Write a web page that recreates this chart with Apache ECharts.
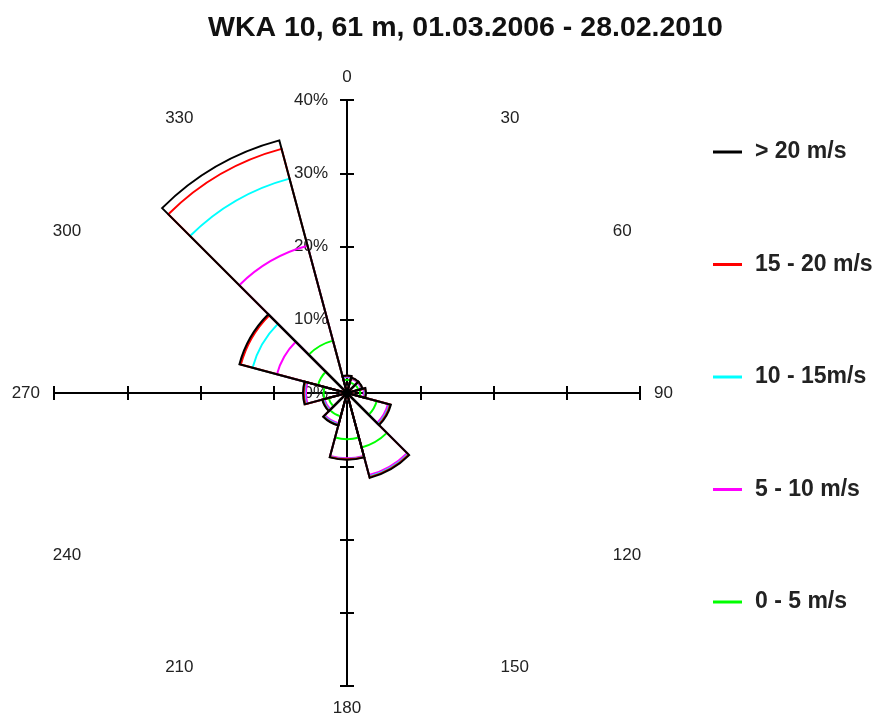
<!DOCTYPE html>
<html>
<head>
<meta charset="utf-8">
<script src="https://cdn.jsdelivr.net/npm/echarts@6/dist/echarts.min.js"></script>
<style>
html,body{margin:0;padding:0;background:#fff;}
#chart{width:877px;height:719px;}
</style>
</head>
<body>
<div id="chart"></div>
<script>
// Direction sectors (compass degrees, 30° bins)
const directions = ['0','30','60','90','120','150','180','210','240','270','300','330'];
// Speed classes
const classNames = ['0 - 5 m/s', '5 - 10 m/s', '10 - 15m/s', '15 - 20 m/s', '> 20 m/s'];
const classColors = ['#00ff00', '#ff00ff', '#00ffff', '#ff0000', '#000000'];
// Frequency (%) per class and direction sector
const v0_5   = [1.8, 1.5, 1.6, 1.8, 4.2, 7.7, 6.3, 3.3, 2.6, 3.2, 4.1, 7.4];
const v5_10  = [0.4, 0.5, 0.4, 0.5, 1.6, 3.9, 2.6, 1.0, 0.6, 2.4, 5.8, 13.4];
const v10_15 = [0.1, 0.1, 0.1, 0.15, 0.2, 0.2, 0.1, 0.15, 0.15, 0.2, 3.45, 9.5];
const v15_20 = [0.05, 0.05, 0.05, 0.1, 0.1, 0.1, 0.05, 0.1, 0.1, 0.1, 1.65, 4.2];
const v20    = [0.05, 0.05, 0.05, 0.05, 0.1, 0.1, 0.05, 0.05, 0.05, 0.1, 0.2, 1.2];
// Radial axis ticks (%)
const radialMin = -40, radialMax = 40, radialStep = 10;

const classValues = [v0_5, v5_10, v10_15, v15_20, v20];
const cumulative = [];
let running = directions.map(() => 0);
classValues.forEach(arr => {
  running = running.map((s, i) => +(s + arr[i]).toFixed(3));
  cumulative.push(running.slice());
});

const FONT = 'Liberation Sans, Arial, sans-serif';
const CX = 347, CY = 393, R = 293;

const axisCommon = {
  type: 'value', min: radialMin, max: radialMax, interval: radialStep,
  axisLine: { onZero: true, onZeroAxisIndex: 0, lineStyle: { color: '#000', width: 2 } },
  axisTick: { length: 7, lineStyle: { color: '#000', width: 2 } },
  axisLabel: { show: false },
  splitLine: { show: false }
};

const series = classNames.map((name, i) => ({
  name: name,
  type: 'bar',
  coordinateSystem: 'polar',
  polarIndex: 0,
  data: cumulative[i],
  barGap: '-100%',
  barCategoryGap: '0%',
  silent: true,
  z: 3 + i,
  itemStyle: { color: 'rgba(0,0,0,0)', borderColor: classColors[i], borderWidth: 2 },
  emphasis: { disabled: true }
}));

const legendOrder = [4, 3, 2, 1, 0];

const option = {
  backgroundColor: '#fff',
  animation: false,
  title: {
    text: 'WKA 10, 61 m, 01.03.2006 - 28.02.2010',
    left: 203, top: 9,
    textStyle: { fontFamily: FONT, fontSize: 28.5, fontWeight: 'bold', color: '#111' }
  },
  legend: {
    orient: 'vertical',
    left: 708, top: 135,
    itemWidth: 29, itemHeight: 3,
    itemGap: 88.5,
    icon: 'rect',
    selectedMode: false,
    itemStyle: { borderWidth: 0 },
    textStyle: { fontFamily: FONT, fontSize: 23, fontWeight: 'bold', color: '#222', lineHeight: 24, padding: [0, 0, 0, 8] },
    data: legendOrder.map(i => ({ name: classNames[i], itemStyle: { color: classColors[i], borderWidth: 0 } }))
  },
  grid: { left: CX - R, top: CY - R, width: 2 * R, height: 2 * R },
  xAxis: [
    Object.assign({}, axisCommon, { position: 'bottom' }),
    Object.assign({}, axisCommon, { position: 'top' })
  ],
  yAxis: [
    Object.assign({}, axisCommon, {
      position: 'left',
      axisLabel: {
        show: true, margin: 19 - R, fontFamily: FONT, fontSize: 17, color: '#222',
        formatter: v => (v >= 0 ? v + '%' : '')
      }
    }),
    Object.assign({}, axisCommon, { position: 'right' })
  ],
  polar: [{ center: [CX, CY], radius: R }],
  angleAxis: {
    polarIndex: 0,
    type: 'category',
    data: directions,
    startAngle: 105,
    clockwise: true,
    boundaryGap: true,
    axisLine: { show: false },
    axisTick: { show: false },
    splitLine: { show: false },
    axisLabel: { show: true, margin: 14, fontFamily: FONT, fontSize: 17, color: '#222' }
  },
  radiusAxis: {
    polarIndex: 0, type: 'value', min: 0, max: radialMax,
    axisLine: { show: false }, axisTick: { show: false },
    axisLabel: { show: false }, splitLine: { show: false }
  },
  series: series
};

const chart = echarts.init(document.getElementById('chart'), null, { renderer: 'canvas' });
chart.setOption(option);
</script>
</body>
</html>
